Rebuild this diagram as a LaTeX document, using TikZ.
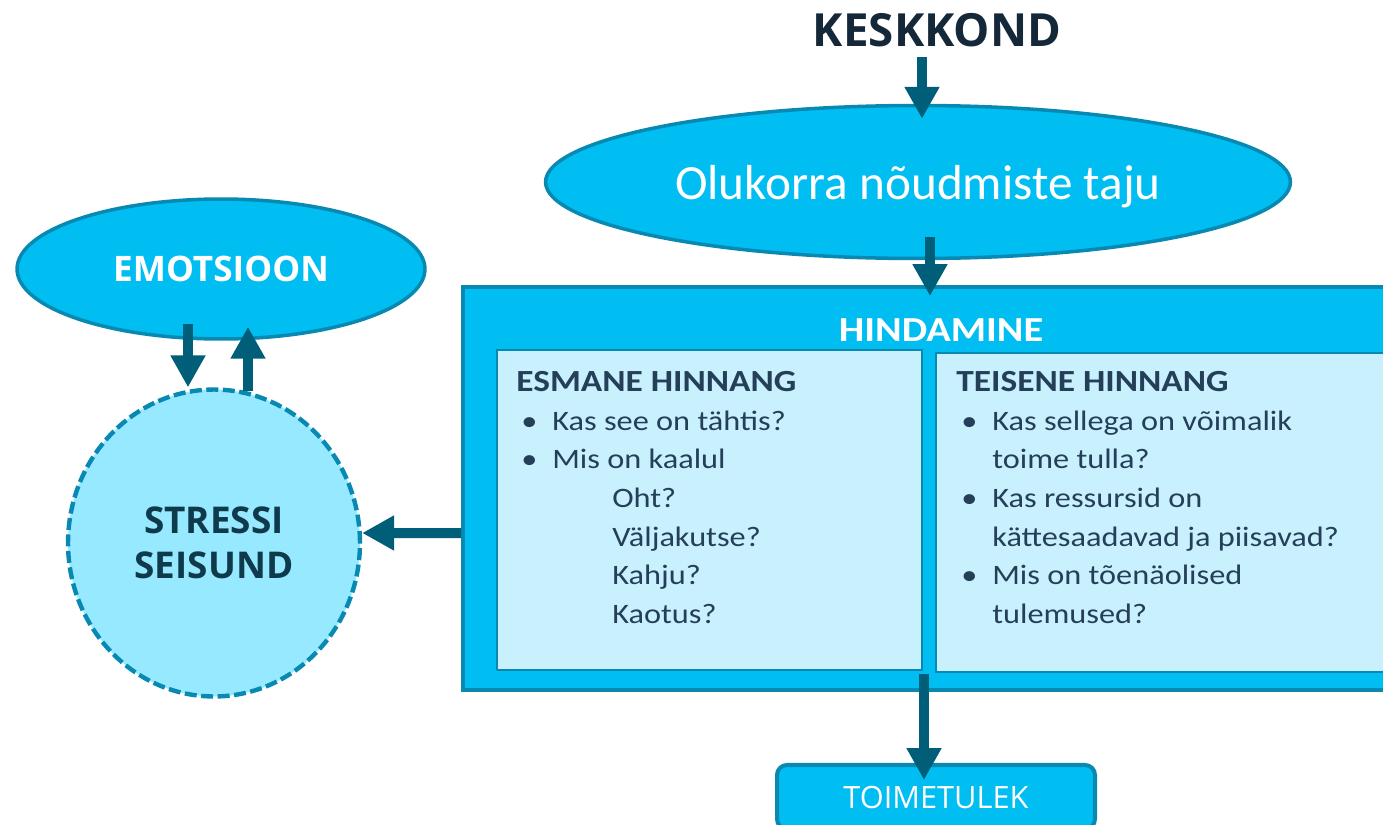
\documentclass[tikz,border=0pt]{standalone}
\usepackage{fontspec}
\setmainfont{Carlito}
\newfontfamily\segoe{Open Sans}
\newfontfamily\widecal{Carlito}[FakeStretch=1.15]
\usetikzlibrary{shapes, shapes.geometric, arrows.meta, calc}

\definecolor{cyanfill}{RGB}{0,190,242}
\definecolor{rimblue}{RGB}{8,137,178}
\definecolor{arrowblue}{RGB}{0,94,120}
\definecolor{paleblue}{RGB}{200,241,253}
\definecolor{circleblue}{RGB}{150,233,255}
\definecolor{deepteal}{RGB}{15,58,76}
\definecolor{inktext}{RGB}{37,63,88}
\definecolor{navy}{RGB}{21,40,58}

\newcommand{\bul}{\makebox[0.72cm][l]{\hspace{0.1cm}\textbullet}}
\newcommand{\subgap}{\hspace*{1.92cm}}
\newcommand{\wrapgap}{\hspace*{0.72cm}}

\begin{document}
\begin{tikzpicture}[x=0.02cm, y=-0.02cm]
% Node styles
\tikzstyle{oval} = [ellipse, draw=rimblue, line width=2pt, fill=cyanfill, inner sep=0pt]
\tikzstyle{panel} = [rectangle, draw=rimblue, line width=2.3pt, fill=cyanfill, inner sep=0pt]
\tikzstyle{subpanel} = [rectangle, draw=rimblue, line width=1pt, fill=paleblue, inner sep=0pt]
\tikzstyle{listtext} = [inner sep=0pt, align=left, text=inktext, font=\widecal\fontsize{16}{22}\selectfont]
\tikzstyle{arrow} = [line width=0.2cm, draw=arrowblue, -{Triangle[width=0.66cm,length=0.64cm]}]

\useasboundingbox (0,0) rectangle (1383,825);
\clip (0,0) rectangle (1383,825);

% Nodes
\node [text=navy, inner sep=0pt, font=\segoe\bfseries\fontsize{26}{30}\selectfont] (keskkond) at (937,30) {KESKKOND};
\node [oval, minimum width=14.9cm, minimum height=3.06cm, text depth=0pt, text=white, font=\fontsize{28}{34}\selectfont] (taju) at (918,182) {Olukorra nõudmiste taju};

\node [panel, minimum width=18.74cm, minimum height=8.06cm] (hind) at (931.5,488.5) {};
\node [text=white, inner sep=0pt, font=\widecal\bfseries\fontsize{20}{24}\selectfont] (hindtitle) at (941,330) {HINDAMINE};
\node [subpanel, minimum width=8.5cm, minimum height=6.4cm] (esmane) at (709.5,510) {};
\node [subpanel, minimum width=9.28cm, minimum height=6.38cm] (teisene) at (1168,512.5) {};

\node [listtext, anchor=north west] (esmanetext) at (516,371) {{\bfseries\fontsize{17.5}{22}\selectfont ESMANE HINNANG}\\
\bul Kas see on tähtis?\\
\bul Mis on kaalul\\
\subgap Oht?\\
\subgap Väljakutse?\\
\subgap Kahju?\\
\subgap Kaotus?};
\node [listtext, anchor=north west] (teisenetext) at (956,371) {{\bfseries\fontsize{17.5}{22}\selectfont TEISENE HINNANG}\\
\bul Kas sellega on võimalik\\
\wrapgap toime tulla?\\
\bul Kas ressursid on\\
\wrapgap kättesaadavad ja piisavad?\\
\bul Mis on tõenäolised\\
\wrapgap tulemused?};

\node [oval, minimum width=8.16cm, minimum height=2.8cm, text=white, font=\segoe\bfseries\fontsize{20}{24}\selectfont] (emo) at (221,269) {EMOTSIOON};
\node [ellipse, draw=rimblue, line width=2.5pt, dash pattern=on 0.24cm off 0.09cm, fill=circleblue, minimum width=5.84cm, minimum height=6.14cm, inner sep=0pt, align=center, text=deepteal, font=\segoe\bfseries\fontsize{21}{25.6}\selectfont] (stress) at (214,543) {STRESSI\\SEISUND};

\node [rectangle, rounded corners=0.2cm, draw=rimblue, line width=2.3pt, fill=cyanfill, minimum width=6.36cm, minimum height=1.28cm, text=white, font=\segoe\fontsize{17.5}{21}\selectfont] (toime) at (936,797) {TOIMETULEK};

% Arrows
\draw [arrow] ($(keskkond.south)+(-15,10)$) -- ($(taju.north)+(4,15)$);
\draw [arrow] ($(taju.south)+(12,-23.5)$) -- ($(hind.north)+(-1.5,11)$);
\draw [arrow] ($(hind.west)+(0,44.5)$) -- ($(stress.east)+(0,-10)$);
\draw [arrow] ($(emo.south)+(-33,-17)$) -- ($(stress.north)+(-26,0)$);
\draw [arrow] ($(stress.north)+(34,4)$) -- ($(emo.south)+(27,-14)$);
\draw [arrow] ($(hind.south)+(-7.5,-18)$) -- ($(toime.north)+(-12,17)$);
\end{tikzpicture}
\end{document}
